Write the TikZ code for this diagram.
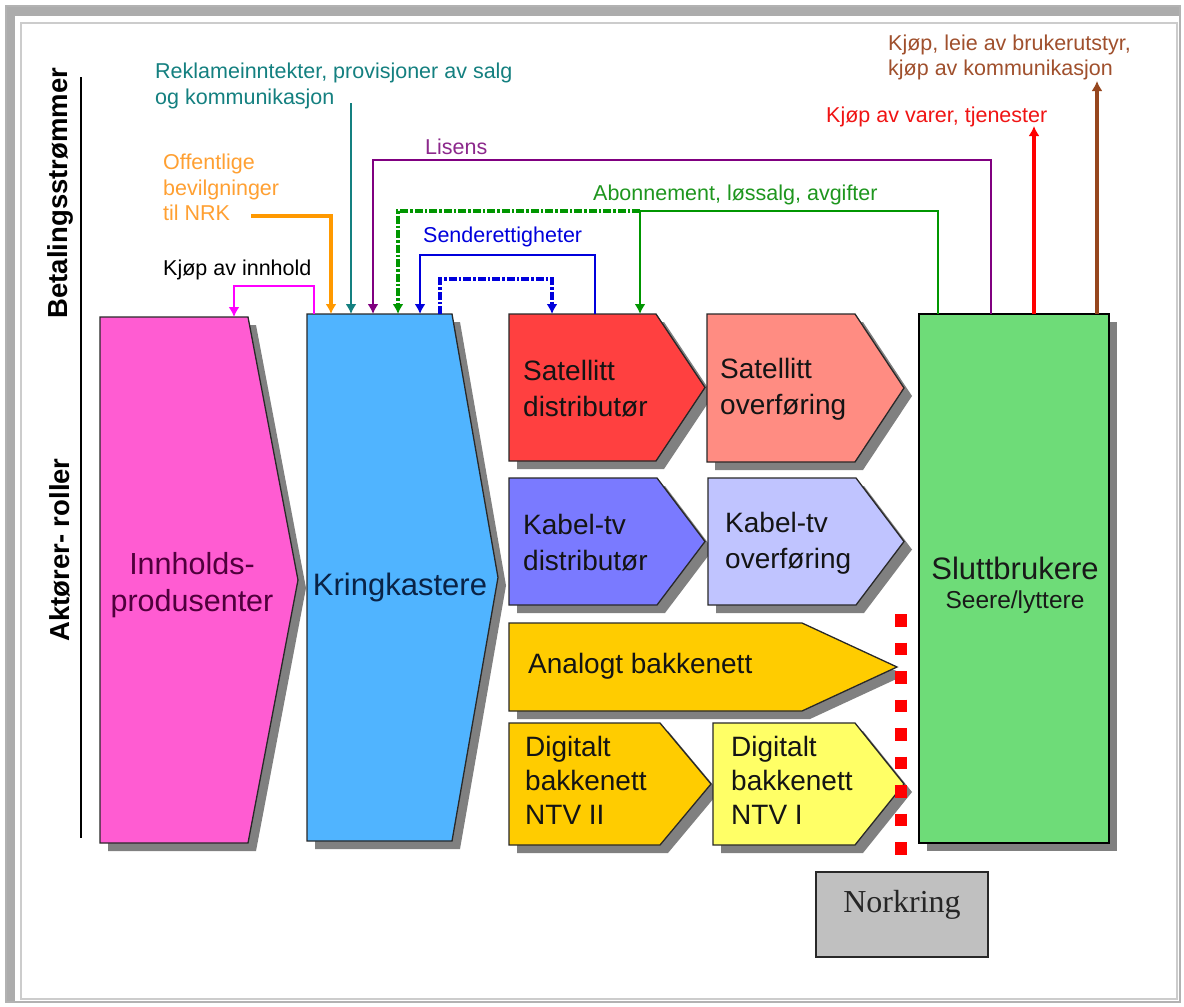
\documentclass[tikz,border=0pt]{standalone}
\usepackage{fontspec}
\setmainfont{Liberation Sans}
\newfontfamily\serifnk{Liberation Serif}
\usetikzlibrary{arrows.meta}

\definecolor{pinkf}{RGB}{255,92,210}
\definecolor{bluef}{RGB}{80,180,255}
\definecolor{redf}{RGB}{255,64,64}
\definecolor{salmonf}{RGB}{255,140,130}
\definecolor{kabdf}{RGB}{122,122,255}
\definecolor{kabof}{RGB}{192,196,255}
\definecolor{goldf}{RGB}{255,204,0}
\definecolor{yellowf}{RGB}{255,255,102}
\definecolor{greenf}{RGB}{110,220,120}
\definecolor{grayf}{RGB}{192,192,192}
\definecolor{shadowc}{RGB}{128,128,128}
\definecolor{edgec}{RGB}{40,40,40}
\definecolor{cteal}{RGB}{20,128,128}
\definecolor{corange}{RGB}{255,153,0}
\definecolor{corangetxt}{RGB}{255,160,50}
\definecolor{cpurple}{RGB}{128,0,128}
\definecolor{cpurpletxt}{RGB}{140,40,140}
\definecolor{cgreen}{RGB}{0,150,0}
\definecolor{cgreentxt}{RGB}{30,150,30}
\definecolor{cblue}{RGB}{0,0,220}
\definecolor{cmag}{RGB}{255,0,255}
\definecolor{cred}{RGB}{255,0,0}
\definecolor{credtxt}{RGB}{240,20,20}
\definecolor{cbrown}{RGB}{150,70,30}
\definecolor{cbrowntxt}{RGB}{160,80,45}
\definecolor{inntxt}{RGB}{80,0,60}
\definecolor{kringtxt}{RGB}{10,35,70}

\newcommand\shadowof[2]{%
  \fill[shadowc] ([shift={(8,8)}]#1.north west) -- ([shift={(8-#2,8)}]#1.north east)
    -- ([shift={(8,8)}]#1.east) -- ([shift={(8-#2,8)}]#1.south east)
    -- ([shift={(8,8)}]#1.south west) -- cycle;}
\newcommand\shapeof[3]{%
  \filldraw[fill=#2, draw=edgec, line width=1.3] (#1.north west) -- ([xshift=-#3]#1.north east)
    -- (#1.east) -- ([xshift=-#3]#1.south east) -- (#1.south west) -- cycle;}

\tikzset{
  shp/.style={inner sep=0, outer sep=0, draw=none},
  lbl/.style={font=\fontsize{21.5}{26}\selectfont, align=left, anchor=west, inner sep=0},
  btxt/.style={font=\fontsize{28}{36}\selectfont, align=left, anchor=west, inner sep=0, text=black!92},
  flow/.style={line width=2.8, -{Latex[length=10pt,width=11pt]}},
  dashflow/.style={line width=4, dash pattern=on 8pt off 2pt on 2.5pt off 2pt, -{Latex[length=10pt,width=11pt]}},
}

\begin{document}
\begin{tikzpicture}[x=1pt, y=-1pt]
\useasboundingbox (0,0) rectangle (1184,1007);
\fill[white] (0,0) rectangle (1184,1007);

% frame
\fill[gray!65] (6,6) rectangle (1181,16);
\fill[gray!65] (6,6) rectangle (15,1002);
\draw[gray!60, line width=1.5] (6,6) rectangle (1180,1002);
\draw[gray!40, line width=1.2] (21,23) rectangle (1177,999);

% axis labels
\node[rotate=90, font=\bfseries\fontsize{27.5}{30}\selectfont] (betal) at (60,193) {Betalingsstrømmer};
\node[rotate=90, font=\bfseries\fontsize{27.5}{30}\selectfont] (akt) at (60,550) {Aktører- roller};
\draw[line width=1.5] (81,77) -- (81,838);

% shape nodes (anchors)
\node[shp, minimum width=198, minimum height=526] (inn)   at (199,580) {};
\node[shp, minimum width=191, minimum height=527] (kring) at (402.5,577.5) {};
\node[shp, minimum width=196, minimum height=147] (satd)  at (607,387.5) {};
\node[shp, minimum width=197, minimum height=148] (sato)  at (805.5,388) {};
\node[shp, minimum width=196, minimum height=127] (kabd)  at (607,541.5) {};
\node[shp, minimum width=196, minimum height=127] (kabo)  at (806,541.5) {};
\node[shp, minimum width=388, minimum height=88]  (anal)  at (703,667) {};
\node[shp, minimum width=202, minimum height=122] (ntvb)  at (610,784) {};
\node[shp, minimum width=191, minimum height=122] (ntva)  at (808.5,784) {};
\node[shp, minimum width=190, minimum height=529] (slutt) at (1014,578.5) {};
\node[shp, minimum width=172, minimum height=85]  (nork)  at (902,914.5) {};

% shadows
\shadowof{inn}{50}
\shadowof{kring}{46}
\shadowof{satd}{49}
\shadowof{sato}{49}
\shadowof{kabd}{48}
\shadowof{kabo}{48}
\shadowof{anal}{95}
\shadowof{ntvb}{51}
\shadowof{ntva}{49}
\fill[shadowc] ([shift={(8,8)}]slutt.north west) rectangle ([shift={(8,8)}]slutt.south east);

% shapes
\shapeof{inn}{pinkf}{50}
\shapeof{kring}{bluef}{46}
\shapeof{satd}{redf}{49}
\shapeof{sato}{salmonf}{49}
\shapeof{kabd}{kabdf}{48}
\shapeof{kabo}{kabof}{48}
\shapeof{anal}{goldf}{95}
\shapeof{ntvb}{goldf}{51}
\shapeof{ntva}{yellowf}{49}
\filldraw[fill=greenf, draw=black, line width=2] (slutt.north west) rectangle (slutt.south east);
\filldraw[fill=grayf, draw=edgec, line width=1.5] (nork.north west) rectangle (nork.south east);

% red dotted line
\draw[cred, line width=12, dash pattern=on 12.5pt off 16pt] (901,614) -- (901,858);

% box texts
\node[font=\fontsize{30.5}{37}\selectfont, align=center, text=inntxt] (inn-t) at (192,585) {Innholds-\\produsenter};
\node[font=\fontsize{31}{37}\selectfont, text=kringtxt] (kring-t) at (400,587) {Kringkastere};
\node[btxt] (satd-t) at (523,389) {Satellitt\\distributør};
\node[btxt] (sato-t) at (720,389) {Satellitt\\overføring};
\node[btxt] (kabd-t) at (523,543) {Kabel-tv\\distributør};
\node[btxt] (kabo-t) at (725,543) {Kabel-tv\\overføring};
\node[btxt] (anal-t) at (528,666) {Analogt bakkenett};
\node[btxt, font=\fontsize{28}{34}\selectfont] (ntvb-t) at (525,780) {Digitalt\\bakkenett\\NTV II};
\node[btxt, font=\fontsize{28}{34}\selectfont] (ntva-t) at (731,780) {Digitalt\\bakkenett\\NTV I};
\node[font=\fontsize{31}{36}\selectfont, text=black!90] (slutt-t) at (1015,568) {Sluttbrukere};
\node[font=\fontsize{24.5}{30}\selectfont, text=black!90] (slutt-s) at (1015,602) {Seere/lyttere};
\node[font=\serifnk\fontsize{32}{36}\selectfont, text=black!85] (nork-t) at (902,905) {Norkring};

% flow labels
\node[lbl, text=cteal] (rek) at (155,85.5) {Reklameinntekter, provisjoner av salg\\og kommunikasjon};
\node[lbl, text=corangetxt, font=\fontsize{21.5}{25.5}\selectfont] (off) at (163,187.5) {Offentlige\\bevilgninger\\til NRK};
\node[lbl, text=cpurpletxt] (lis) at (425,147) {Lisens};
\node[lbl, text=cgreentxt] (abo) at (593,195) {Abonnement, løssalg, avgifter};
\node[lbl, text=cblue] (sen) at (423,237) {Senderettigheter};
\node[lbl] (kji) at (163,270) {Kjøp av innhold};
\node[lbl, text=credtxt] (kvt) at (826,117) {Kjøp av varer, tjenester};
\node[lbl, text=cbrowntxt, font=\fontsize{21.5}{25}\selectfont] (kle) at (888,57.5) {Kjøp, leie av brukerutstyr,\\kjøp av kommunikasjon};

% free ends
\coordinate (offc) at (251,216);
\coordinate (rekc) at (351,103);
\coordinate (abj)  at (640,211);
\coordinate (redc) at (1034,126);
\coordinate (brnc) at (1097,81);

% connectors
\draw[flow, cmag, line width=2.4] ([xshift=7]kring.north west) -- ++(0,-28) -| ([xshift=134]inn.north west);
\draw[flow, corange, line width=3.4] (offc) -| ([xshift=24]kring.north west);
\draw[flow, cteal] (rekc) -- ([xshift=44]kring.north west);
\draw[flow, cpurple] ([xshift=72]slutt.north west) -- ++(0,-154) -| ([xshift=66]kring.north west);
\draw[flow, cgreen] ([xshift=19]slutt.north west) -- ++(0,-103) -| ([xshift=131]satd.north west);
\draw[dashflow, cgreen] (abj) -| ([xshift=91]kring.north west);
\draw[flow, cblue] ([xshift=86]satd.north west) -- ++(0,-59) -| ([xshift=113]kring.north west);
\draw[dashflow, cblue] ([xshift=133]kring.north west) -- ++(0,-35) -| ([xshift=43]satd.north west);
\draw[flow, cred, line width=4] ([xshift=115]slutt.north west) -- (redc);
\draw[flow, cbrown, line width=3.4] ([xshift=178]slutt.north west) -- (brnc);
\end{tikzpicture}
\end{document}
